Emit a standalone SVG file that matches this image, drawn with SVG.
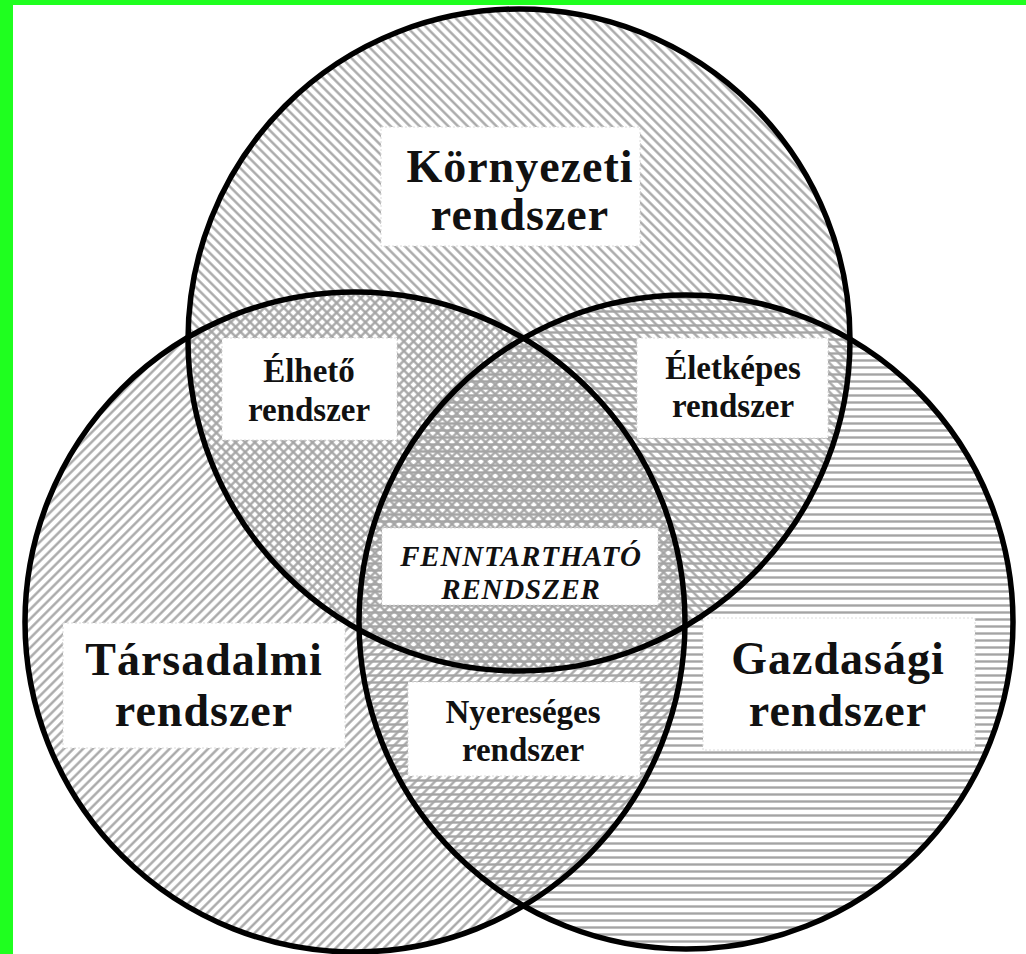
<svg xmlns="http://www.w3.org/2000/svg" width="1026" height="954" viewBox="0 0 1026 954">
<defs>
<pattern id="hatchH" patternUnits="userSpaceOnUse" width="10" height="7">
<line x1="0" y1="3.5" x2="10" y2="3.5" stroke="#a4a4a4" stroke-width="2.4"/>
</pattern>
<pattern id="hatchBack" patternUnits="userSpaceOnUse" width="10" height="6.8" patternTransform="rotate(45)">
<line x1="0" y1="3.4" x2="10" y2="3.4" stroke="#a4a4a4" stroke-width="2.3"/>
</pattern>
<pattern id="hatchFwd" patternUnits="userSpaceOnUse" width="10" height="6.8" patternTransform="rotate(-45)">
<line x1="0" y1="3.4" x2="10" y2="3.4" stroke="#a4a4a4" stroke-width="2.3"/>
</pattern>
</defs>
<style>
.ring{fill:none;stroke:#000;stroke-width:5.5}
.box{fill:#fff;stroke:#dcdcdc;stroke-width:1;stroke-dasharray:2 2}
.big{font-family:"Liberation Serif","Times New Roman",serif;font-weight:bold;font-size:46px;fill:#111;text-anchor:middle;letter-spacing:1px}
.mid{font-family:"Liberation Serif","Times New Roman",serif;font-weight:bold;font-size:33px;fill:#111;text-anchor:middle}
.core{font-family:"Liberation Serif","Times New Roman",serif;font-weight:bold;font-style:italic;font-size:29px;fill:#111;text-anchor:middle;letter-spacing:0.8px}
</style>
<rect x="0" y="0" width="1026" height="954" fill="#fff"/>
<rect x="0" y="0" width="13" height="954" fill="#1fff1f"/>
<rect x="0" y="0" width="1026" height="5" fill="#1fff1f"/>
<g id="fills">
<circle cx="519" cy="340" r="331" fill="url(#hatchBack)"/>
<circle cx="355" cy="622" r="330" fill="url(#hatchFwd)"/>
<circle cx="686" cy="622" r="327" fill="url(#hatchH)"/>
</g>
<g id="kornyezeti">
<rect class="box" x="381" y="127" width="259" height="119"/>
<text class="big" x="520" y="182">Környezeti</text>
<text class="big" x="520" y="230">rendszer</text>
</g>
<g id="elheto">
<rect class="box" x="222" y="338" width="175" height="102"/>
<text class="mid" x="309" y="382">Élhető</text>
<text class="mid" x="309" y="421">rendszer</text>
</g>
<g id="eletkepes">
<rect class="box" x="637" y="338" width="191" height="100"/>
<text class="mid" x="733" y="379">Életképes</text>
<text class="mid" x="733" y="417">rendszer</text>
</g>
<g id="fenntarthato">
<rect class="box" x="382" y="528" width="276" height="77"/>
<text class="core" x="521" y="566">FENNTARTHATÓ</text>
<text class="core" x="521" y="599">RENDSZER</text>
</g>
<g id="tarsadalmi">
<rect class="box" x="63" y="623" width="282" height="125"/>
<text class="big" x="204" y="675">Társadalmi</text>
<text class="big" x="204" y="726">rendszer</text>
</g>
<g id="nyereseges">
<rect class="box" x="408" y="682" width="232" height="94"/>
<text class="mid" x="523" y="723">Nyereséges</text>
<text class="mid" x="523" y="761">rendszer</text>
</g>
<g id="gazdasagi">
<rect class="box" x="703" y="618" width="272" height="132"/>
<text class="big" x="838" y="674">Gazdasági</text>
<text class="big" x="838" y="726">rendszer</text>
</g>
<g id="outlines">
<circle class="ring" cx="519" cy="340" r="331"/>
<circle class="ring" cx="355" cy="622" r="330"/>
<circle class="ring" cx="686" cy="622" r="327"/>
</g>
</svg>
